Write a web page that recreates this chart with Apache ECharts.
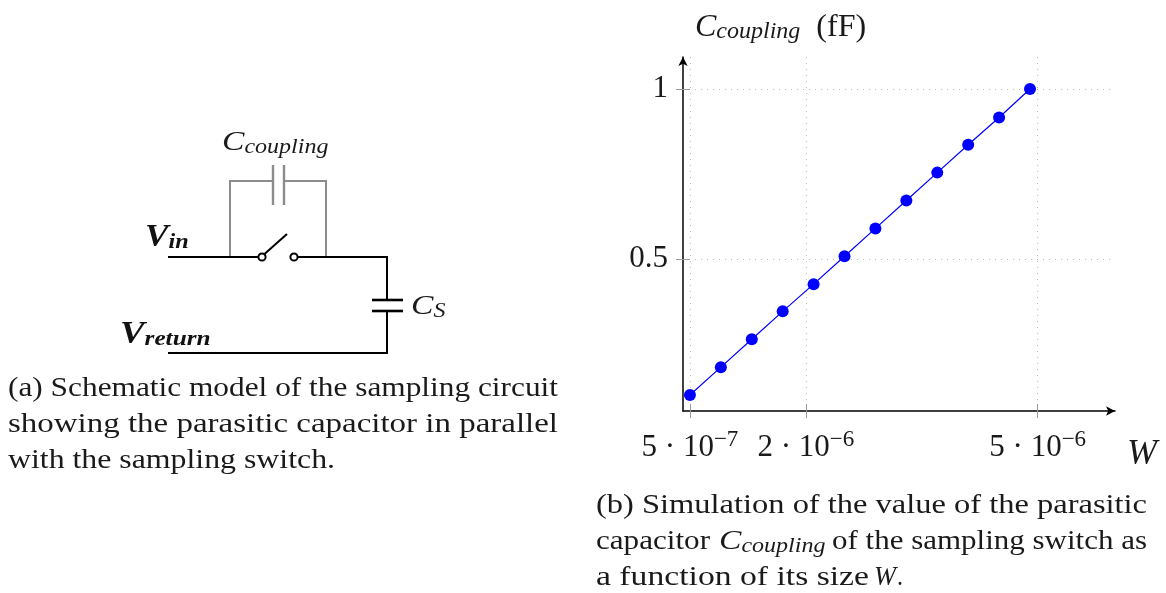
<!DOCTYPE html>
<html><head><meta charset="utf-8">
<style>html,body{margin:0;padding:0;background:#fff}#c{width:1166px;height:593px}</style>
<script src="https://cdn.jsdelivr.net/npm/echarts@6/dist/echarts.min.js"></script>
</head><body><div id="c"></div>
<script>
const widths = [5e-7,9e-7,1.3e-6,1.7e-6,2.1e-6,2.5e-6,2.9e-6,3.3e-6,3.7e-6,4.1e-6,4.5e-6,4.9e-6];
const couplingFF = [0.1,0.182,0.264,0.346,0.426,0.508,0.59,0.672,0.754,0.836,0.916,1.0];
const xTickValues = [5e-7,2e-6,5e-6];
const xTickLabels = {'5e-7':['5 · 10','−7'],'0.000002':['2 · 10','−6'],'0.000005':['5 · 10','−6']};
const yTickValues = [0.5,1];
const captionA = ['(a) Schematic model of the sampling circuit','showing the parasitic capacitor in parallel','with the sampling switch.'];
const captionB = ['(b) Simulation of the value of the parasitic','capacitor','of the sampling switch as','a function of its size'];
const SERIF = '"Liberation Serif"';
const FS = 28;
const ctx = document.createElement('canvas').getContext('2d');
function fitted(text,x,y,w,font){
  font = font || (FS+'px '+SERIF);
  ctx.font = font;
  return {type:'text',x:x,y:y,scaleX:w/ctx.measureText(text).width,silent:true,
    style:{text:text,font:font,fill:'#1a1a1a',verticalAlign:'middle',align:'left'}};
}
function rich(text,x,y,styles,sx){
  return {type:'text',x:x,y:y,scaleX:sx||1,silent:true,style:{text:text,rich:styles,verticalAlign:'middle',align:'left',fill:'#1a1a1a'}};
}
const ccStyles = {
  C:{fontFamily:SERIF,fontStyle:'italic',fontSize:28,fill:'#1a1a1a'},
  s:{fontFamily:SERIF,fontStyle:'italic',fontSize:20,fill:'#1a1a1a',padding:[9,0,0,0]}
};
const bStyles = {
  V:{fontFamily:SERIF,fontStyle:'italic',fontWeight:'bold',fontSize:32,fill:'#111'},
  s:{fontFamily:SERIF,fontStyle:'italic',fontWeight:'bold',fontSize:22,fill:'#111',padding:[9,0,0,0]}
};
function seg(x1,y1,x2,y2,c,w){return {type:'line',silent:true,shape:{x1,y1,x2,y2},style:{stroke:c,lineWidth:w||2}};}
const GRAY='#8c8c8c', BK='#000';
const schematic = [
  seg(230,257,230,181,GRAY),seg(229,181,273,181,GRAY),seg(284,181,327,181,GRAY),seg(326,181,326,257,GRAY),
  seg(273,165,273,205,GRAY,2.4),seg(284,165,284,205,GRAY,2.4),
  seg(168,257,258,257,BK),seg(297,257,388,257,BK),seg(387,257,387,300,BK),seg(387,311,387,354,BK),seg(168,353,388,353,BK),
  seg(372,300,403,300,BK,2.6),seg(372,311,403,311,BK,2.6),seg(264.5,254,287,234,BK),
  {type:'circle',silent:true,shape:{cx:262,cy:257,r:3.6},style:{fill:'#fff',stroke:BK,lineWidth:2}},
  {type:'circle',silent:true,shape:{cx:294,cy:257,r:3.6},style:{fill:'#fff',stroke:BK,lineWidth:2}}
];
const texts = [
  fitted(captionA[0],8,389,550),fitted(captionA[1],8,425,550),fitted(captionA[2],8,461,327),
  fitted(captionB[0],596,506,551),fitted(captionB[1],596,542,114),
  rich('{C|C}{s|coupling}',719,542,ccStyles,1.2),
  fitted(captionB[2],832,542,315),fitted(captionB[3],596,578,273),
  fitted('W',874,578,22,'italic '+FS+'px '+SERIF),fitted('.',897,578,6),
  rich('{C|C}{s|coupling}',222,143,ccStyles,1.2),
  rich('{C|C}{s|S}',411,307,ccStyles,1.2),
  rich('{V|V}{s|in}',145,238,bStyles,1.1),
  rich('{V|V}{s|return}',120,335,bStyles,1.15)
];
const AXMIN=4.1e-7, AXMAX=6e-6, AYMIN=0.053, AYMAX=1.094;
const tickStyle={show:true,length:7,lineStyle:{color:'#999',width:1}};
const dotted={show:true,lineStyle:{color:'#bdbdbd',width:1,type:[1,5]}};
const chart = echarts.init(document.getElementById('c'),null,{renderer:'canvas'});
chart.setOption({
  animation:false,backgroundColor:'#fff',
  grid:{left:683,top:57,width:432,height:354,containLabel:false},
  xAxis:[{
    type:'value',min:AXMIN,max:AXMAX,
    name:'W',nameLocation:'end',nameGap:12,
    nameTextStyle:{fontFamily:SERIF,fontStyle:'italic',fontSize:36,color:'#1a1a1a',verticalAlign:'top',align:'left',padding:[26,0,0,0]},
    axisLine:{show:true,lineStyle:{color:'#000',width:1.5},symbol:['none','arrow'],symbolSize:[7,9],symbolOffset:[0,0]},
    axisTick:{...tickStyle,customValues:xTickValues},
    axisLabel:{show:true,margin:13,hideOverlap:false,showMinLabel:true,showMaxLabel:true,customValues:xTickValues,
      formatter:v=>{const k=xTickLabels[String(v)]||xTickLabels[String(+v.toPrecision(3))];return k?`{b|${k[0]}}{t|${k[1]}}`:'';},
      rich:{b:{fontFamily:SERIF,fontSize:31,color:'#1a1a1a',padding:[8,0,0,0]},t:{fontFamily:SERIF,fontSize:23,color:'#1a1a1a',padding:[0,0,8,0]}}},
    splitLine:dotted
  },{
    type:'value',min:AXMIN,max:AXMAX,position:'bottom',
    axisLine:{show:false},
    axisTick:{...tickStyle,inside:true,customValues:xTickValues},
    axisLabel:{show:false},splitLine:{show:false}
  }],
  yAxis:[{
    type:'value',min:AYMIN,max:AYMAX,
    name:'{C|C}{s|coupling}{r|  (fF)}',nameLocation:'end',nameGap:13,
    nameTextStyle:{align:'left',padding:[0,0,0,12],rich:{
      C:{fontFamily:SERIF,fontStyle:'italic',fontSize:32,color:'#1a1a1a'},
      s:{fontFamily:SERIF,fontStyle:'italic',fontSize:24,color:'#1a1a1a',padding:[9,0,0,0]},
      r:{fontFamily:SERIF,fontSize:32,color:'#1a1a1a'}}},
    axisLine:{show:true,lineStyle:{color:'#000',width:1.5},symbol:['none','arrow'],symbolSize:[7,9],symbolOffset:[0,0]},
    axisTick:{...tickStyle,customValues:yTickValues},
    axisLabel:{show:true,margin:15,fontFamily:SERIF,fontSize:31,color:'#1a1a1a',customValues:yTickValues,showMinLabel:true,showMaxLabel:true,formatter:v=>String(v)},
    splitLine:dotted
  },{
    type:'value',min:AYMIN,max:AYMAX,position:'left',
    axisLine:{show:false},
    axisTick:{...tickStyle,inside:true,customValues:yTickValues},
    axisLabel:{show:false},splitLine:{show:false}
  }],
  series:[{
    type:'line',xAxisIndex:0,yAxisIndex:0,data:widths.map((w,i)=>[w,couplingFF[i]]),
    symbol:'circle',symbolSize:12,showSymbol:true,clip:false,
    lineStyle:{color:'#0000ff',width:1.2},itemStyle:{color:'#0000ff'}
  }],
  graphic:{elements:[...schematic,...texts]}
});
</script></body></html>
